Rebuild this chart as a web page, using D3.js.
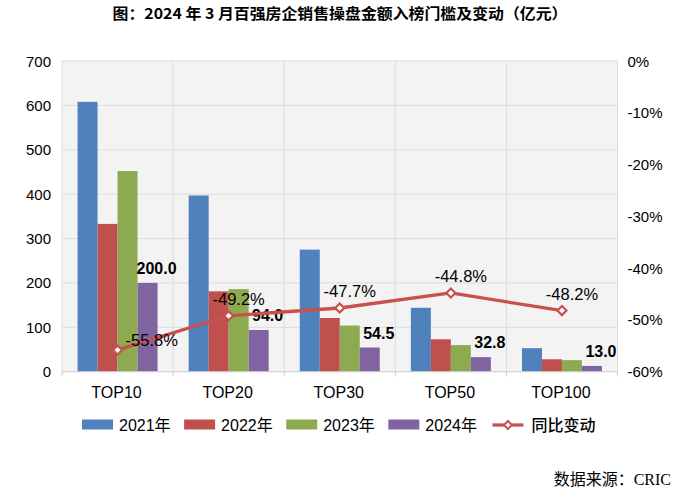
<!DOCTYPE html>
<html><head><meta charset="utf-8">
<script src="https://cdn.jsdelivr.net/npm/d3@7/dist/d3.min.js"></script>
<style>
html,body{margin:0;padding:0;background:#fff;}
svg{display:block;}
</style></head>
<body>
<svg id="chart" width="700" height="503"></svg>
<script>
const categories = ["TOP10","TOP20","TOP30","TOP50","TOP100"];
const seriesNames = ["2021年","2022年","2023年","2024年"];
const v2021 = [608, 397, 275, 144, 53];
const v2022 = [333, 181, 121, 73, 28];
const v2023 = [452, 186, 104, 60, 26];
const v2024 = [200.0, 94.0, 54.5, 32.8, 13.0];
const yoy = [-55.8, -49.2, -47.7, -44.8, -48.2];
const leftTicks = [0,100,200,300,400,500,600,700];
const rightTicks = [0,-10,-20,-30,-40,-50,-60];
const lineName = "同比变动";
const titleText = "图：2024 年 3 月百强房企销售操盘金额入榜门槛及变动（亿元）";
const sourceText = "数据来源：CRIC";

const seriesValues = [v2021, v2022, v2023, v2024];
const colors = ["#4F81BD","#C0504D","#8DAA50","#8064A2"];
const lineColor = "#C8514E";
const SANS = '"Liberation Sans","Noto Sans CJK SC",sans-serif';
const CJK = '"Noto Sans CJK SC",sans-serif';
const SERIF = '"Liberation Serif","Noto Sans CJK SC",serif';

const svg = d3.select("#chart");
const L = 62, R = 617.5, T = 61, B = 371.7;

const x0 = d3.scaleBand().domain(categories).range([L, R]).padding(0);
const bw = x0.bandwidth();
const x1 = d3.scaleBand().domain(seriesNames).range([bw*0.14, bw*0.86]).padding(0);
const yL = d3.scaleLinear().domain([0,700]).range([B, T]);
const yR = d3.scaleLinear().domain([-60,0]).range([B, T]);

// plot background
svg.append("rect").attr("x",L).attr("y",T).attr("width",R-L).attr("height",B-T).attr("fill","#F3F3F3");

// horizontal gridlines
svg.append("g").selectAll("line").data(leftTicks).join("line")
  .attr("x1",L).attr("x2",R).attr("y1",d=>yL(d)).attr("y2",d=>yL(d))
  .attr("stroke","#DCDCDC").attr("stroke-width",1);
// vertical gridlines at band boundaries
const bounds = categories.map(c=>x0(c)).concat([R]);
svg.append("g").selectAll("line").data(bounds).join("line")
  .attr("x1",d=>d).attr("x2",d=>d).attr("y1",T).attr("y2",B)
  .attr("stroke","#DCDCDC").attr("stroke-width",1);

// bars
const barG = svg.append("g");
seriesNames.forEach((s, si) => {
  barG.append("g").selectAll("rect").data(seriesValues[si]).join("rect")
    .attr("x",(d,i)=>x0(categories[i]) + x1(s))
    .attr("width",x1.bandwidth())
    .attr("y",d=>yL(d))
    .attr("height",d=>yL(0)-yL(d))
    .attr("fill",colors[si]);
});

// x axis line & ticks
svg.append("line").attr("x1",L).attr("x2",R).attr("y1",B).attr("y2",B).attr("stroke","#D0D0D0").attr("stroke-width",1);
svg.append("g").selectAll("line").data(bounds).join("line")
  .attr("x1",d=>d).attr("x2",d=>d).attr("y1",B).attr("y2",B+5)
  .attr("stroke","#D0D0D0").attr("stroke-width",1);

// axis labels
svg.append("g").selectAll("text").data(leftTicks).join("text")
  .attr("x",51).attr("y",d=>yL(d)+5.5).attr("text-anchor","end")
  .style("font-family",SANS).style("font-size","15px").text(d=>d);
svg.append("g").selectAll("text").data(rightTicks).join("text")
  .attr("x",627.5).attr("y",d=>yR(d)+5.5).attr("text-anchor","start")
  .style("font-family",SANS).style("font-size","15px").text(d=>d+"%");
svg.append("g").selectAll("text").data(categories).join("text")
  .attr("x",d=>x0(d)+bw/2-1).attr("y",398).attr("text-anchor","middle")
  .style("font-family",SANS).style("font-size","16px").text(d=>d);

// value labels for 2024
svg.append("g").selectAll("text").data(v2024).join("text")
  .attr("x",(d,i)=>x0(categories[i]) + x1("2024年") + x1.bandwidth()/2 + 9)
  .attr("y",d=>yL(d)-9).attr("text-anchor","middle")
  .style("font-family",SANS).style("font-size","16px").style("font-weight","bold")
  .text(d=>d.toFixed(1));

// line
const px = i => x0(categories[i]) + bw/2;
const line = d3.line().x((d,i)=>px(i)).y(d=>yR(d));
svg.append("path").datum(yoy).attr("d",line).attr("fill","none")
  .attr("stroke",lineColor).attr("stroke-width",3.3).attr("stroke-linejoin","round");
const diamond = (cx,cy,r)=>`M${cx},${cy-r}L${cx+r},${cy}L${cx},${cy+r}L${cx-r},${cy}Z`;
svg.append("g").selectAll("path").data(yoy).join("path")
  .attr("d",(d,i)=>diamond(px(i), yR(d), 4.5))
  .attr("fill","#fff").attr("stroke",lineColor).attr("stroke-width",2.2);
svg.append("g").selectAll("text").data(yoy).join("text")
  .attr("x",(d,i)=> i===0 ? px(i)+8 : px(i)+10)
  .attr("y",(d,i)=> i===0 ? yR(d)-4 : yR(d)-11)
  .attr("text-anchor",(d,i)=> i===0 ? "start" : "middle")
  .style("font-family",SANS).style("font-size","16.5px").text(d=>d.toFixed(1)+"%");

// legend
const lg = svg.append("g");
let lx = 82;
const ly = 419.5;
seriesNames.forEach((s, si) => {
  lg.append("rect").attr("x",lx).attr("y",ly).attr("width",31).attr("height",10).attr("fill",colors[si]);
  const t = lg.append("text").attr("x",lx+37).attr("y",ly+11.5)
    .style("font-family",SANS).style("font-size","16px").text(s);
  lx += 37 + t.node().getComputedTextLength() + 13.5;
});
lx += 2;
lg.append("line").attr("x1",lx).attr("x2",lx+31).attr("y1",ly+5.5).attr("y2",ly+5.5)
  .attr("stroke",lineColor).attr("stroke-width",3.3);
lg.append("path").attr("d",diamond(lx+15.5, ly+5.5, 4)).attr("fill","#fff").attr("stroke",lineColor).attr("stroke-width",2);
lg.append("text").attr("x",lx+39).attr("y",ly+11.5)
  .style("font-family",CJK).style("font-size","16px").style("font-weight","500").text(lineName);

// title
svg.append("text").attr("x",340).attr("y",19).attr("text-anchor","middle")
  .style("font-family",CJK).style("font-size","15px").style("font-weight","bold")
  .attr("textLength",455).attr("lengthAdjust","spacingAndGlyphs")
  .text(titleText);

// source
svg.append("text").attr("x",671).attr("y",485).attr("text-anchor","end")
  .style("font-family",SERIF).style("font-size","16px")
  .text(sourceText);
</script>
</body></html>
